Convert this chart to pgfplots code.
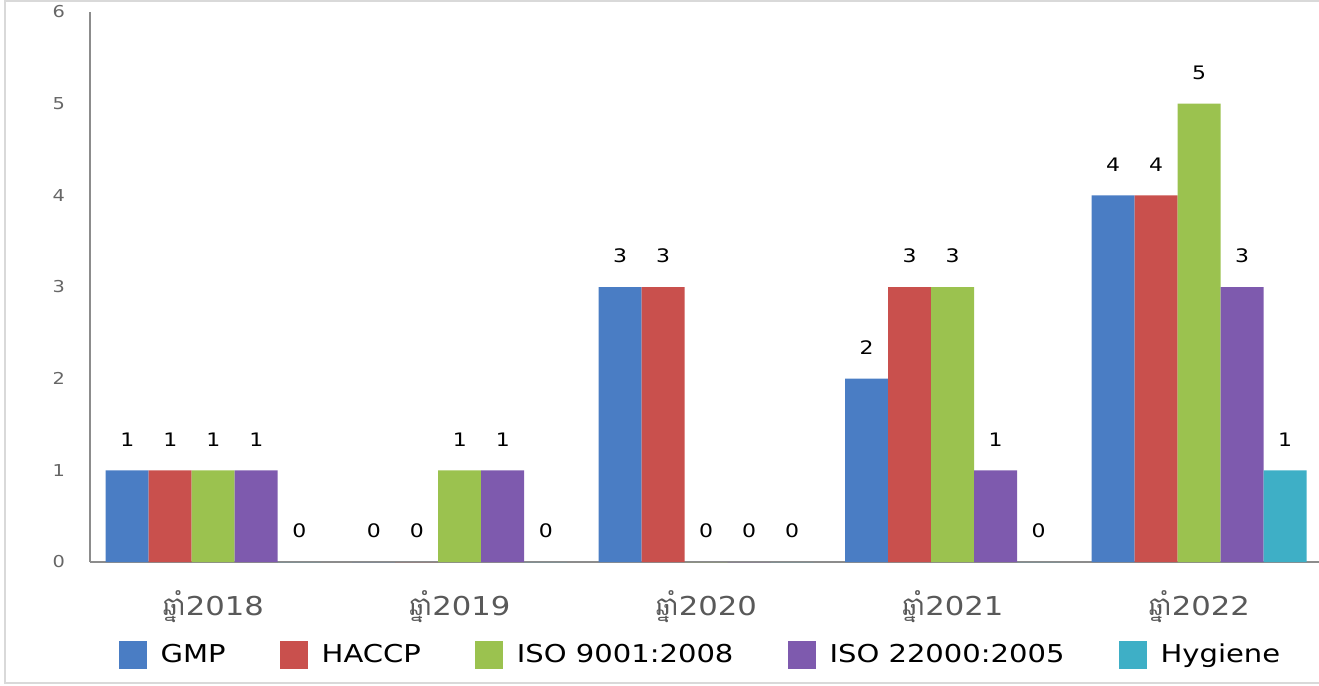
\documentclass[border=0pt]{standalone}
\usepackage{pgfplots}
\pgfplotsset{compat=1.18}
\usepackage{fontspec}
\setmainfont{DejaVu Sans}[FakeStretch=1.18]
\newfontfamily\khmerfont[Script=Khmer]{Battambang}
\definecolor{cgmp}{HTML}{4A7DC4}
\definecolor{chaccp}{HTML}{C9504D}
\definecolor{ciso}{HTML}{9BC24F}
\definecolor{cisob}{HTML}{7E5AAE}
\definecolor{chyg}{HTML}{3EAFC6}
\definecolor{axisgray}{HTML}{8C8C8C}
\pgfplotsset{sqlegend/.style={legend image code/.code={\fill[##1] (0pt,-7pt) rectangle (14pt,7pt); \path (19pt,0pt);}}}
\begin{document}
\begin{tikzpicture}
\clip (-45pt,-62pt) rectangle (614.5pt,281pt);
\draw[gray!30, line width=1pt] (-42.5pt,-60.5pt) rectangle (620pt,280.5pt);
\begin{axis}[
  at={(0pt,0pt)}, anchor=south west,
  scale only axis, width=614.5pt, height=275pt,
  xmin=-0.5, xmax=4.486, ymin=0, ymax=6,
  axis x line*=bottom, axis y line*=left,
  axis line style={draw=axisgray, line width=0.8pt},
  clip=false,
  ybar=0pt, bar width=21.5pt,
  xtick={0,1,2,3,4},
  xticklabels={{\khmerfont ឆ្នាំ}2018,{\khmerfont ឆ្នាំ}2019,{\khmerfont ឆ្នាំ}2020,{\khmerfont ឆ្នាំ}2021,{\khmerfont ឆ្នាំ}2022},
  ytick={0,1,2,3,4,5,6},
  major tick length=0pt,
  /pgf/number format/assume math mode=true,
  yticklabel style={font=\fontsize{8.2}{9}\selectfont, text=black!60, xshift=-9pt},
  xticklabel style={font=\fontsize{13}{14}\selectfont, text=black!65, yshift=-11pt},
  nodes near coords,
  every node near coord/.append style={font=\fontsize{9.3}{10}\selectfont, text=black, yshift=8.5pt},
  legend columns=5,
  legend style={draw=none, fill=none, at={(0.4975,-0.169)}, anchor=center,
    font=\fontsize{12.3}{14}\selectfont,
    /tikz/every even column/.append style={column sep=25pt}},
]
\addplot[fill=cgmp, draw=none, sqlegend] coordinates {(0,1) (1,0) (2,3) (3,2) (4,4)};
\addplot[fill=chaccp, draw=none, sqlegend] coordinates {(0,1) (1,0) (2,3) (3,3) (4,4)};
\addplot[fill=ciso, draw=none, sqlegend] coordinates {(0,1) (1,1) (2,0) (3,3) (4,5)};
\addplot[fill=cisob, draw=none, sqlegend] coordinates {(0,1) (1,1) (2,0) (3,1) (4,3)};
\addplot[fill=chyg, draw=none, sqlegend] coordinates {(0,0) (1,0) (2,0) (3,0) (4,1)};
\legend{GMP, HACCP, ISO 9001:2008, ISO 22000:2005, Hygiene}
\end{axis}
\end{tikzpicture}
\end{document}
